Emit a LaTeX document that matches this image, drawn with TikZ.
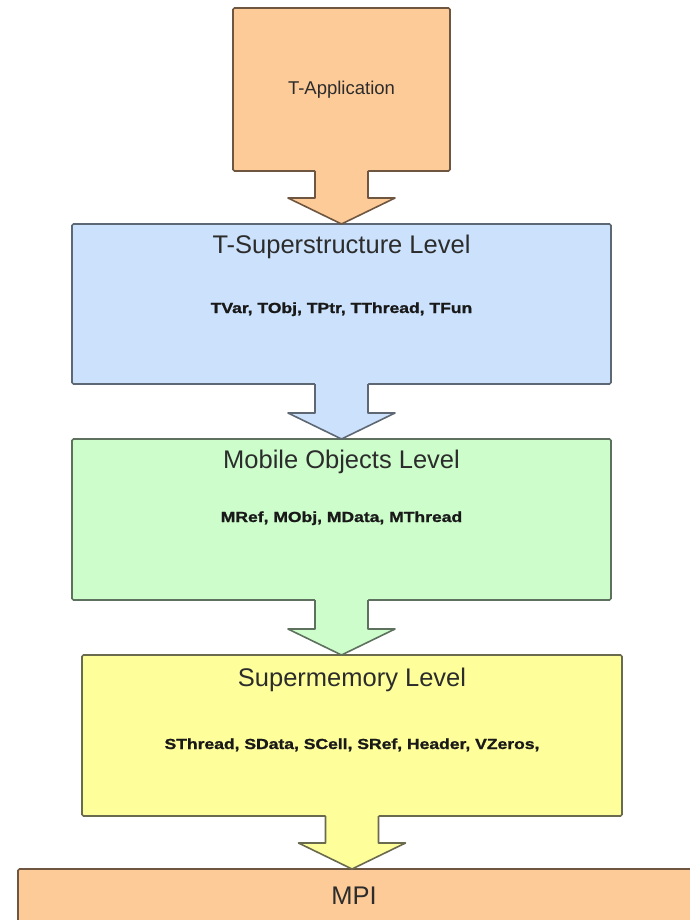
\documentclass[tikz,border=0pt]{standalone}
\usepackage{fontspec}
\setmainfont{Liberation Sans}
\newfontfamily\subfont[FakeStretch=1.2,FakeBold=1.2]{Liberation Sans}
\usetikzlibrary{calc}
\definecolor{appfill}{HTML}{FDCB98}
\definecolor{appdraw}{HTML}{6E5640}
\definecolor{bluefill}{HTML}{CCE2FC}
\definecolor{bluedraw}{HTML}{5E6874}
\definecolor{greenfill}{HTML}{CDFDCB}
\definecolor{greendraw}{HTML}{5E705E}
\definecolor{yellowfill}{HTML}{FEFE9A}
\definecolor{yellowdraw}{HTML}{6A6A4E}
\definecolor{txt}{HTML}{2C2C2C}
\tikzset{
  levelbox/.style={rectangle, rounded corners=1.5pt, line width=1.6pt, outer sep=0pt, inner sep=0pt, anchor=north west},
  titletext/.style={anchor=base, inner sep=0pt, text=txt, font=\fontsize{25.5}{28}\selectfont},
  apptext/.style={anchor=base, inner sep=0pt, text=txt, font=\fontsize{18.5}{20}\selectfont},
  subtext/.style={anchor=base, inner sep=0pt, text=black!90, font=\fontsize{14.6}{16}\selectfont\subfont\bfseries},
}
\newcommand\levelarrow[4]{%
  \fill[#3] let \p1=(#1.south), \p2=(#2.north) in
    (\x1-26.5pt,\y1+2pt) -- (\x1-26.5pt,\y2+26pt) -- (\x1-53.5pt,\y2+26pt) -- (\x1,\y2)
    -- (\x1+53.5pt,\y2+26pt) -- (\x1+26.5pt,\y2+26pt) -- (\x1+26.5pt,\y1+2pt) -- cycle;
  \draw[#4, line width=1.6pt, line join=round] let \p1=(#1.south), \p2=(#2.north) in
    (\x1-26.5pt,\y1) -- (\x1-26.5pt,\y2+26pt) -- (\x1-53.5pt,\y2+26pt) -- (\x1,\y2)
    -- (\x1+53.5pt,\y2+26pt) -- (\x1+26.5pt,\y2+26pt) -- (\x1+26.5pt,\y1);
}
\begin{document}
\begin{tikzpicture}[x=1pt, y=-1pt]
\useasboundingbox (0,0) rectangle (690,920);
\clip (0,0) rectangle (690,920);
\fill[white] (0,0) rectangle (690,920);
% boxes
\node[levelbox, fill=appfill, draw=appdraw, minimum width=217pt, minimum height=163pt] (tapp) at (233,8) {};
\node[levelbox, fill=bluefill, draw=bluedraw, minimum width=539pt, minimum height=160pt] (tsup) at (72,224) {};
\node[levelbox, fill=greenfill, draw=greendraw, minimum width=539pt, minimum height=161pt] (mobj) at (72,439) {};
\node[levelbox, fill=yellowfill, draw=yellowdraw, minimum width=540pt, minimum height=161pt] (smem) at (82,655) {};
\node[levelbox, fill=appfill, draw=appdraw, minimum width=700pt, minimum height=80pt] (mpi) at (18,869) {};
% arrows
\levelarrow{tapp}{tsup}{appfill}{appdraw}
\levelarrow{tsup}{mobj}{bluefill}{bluedraw}
\levelarrow{mobj}{smem}{greenfill}{greendraw}
\levelarrow{smem}{mpi}{yellowfill}{yellowdraw}
% texts
\node[apptext] (tappt) at (341.5,95) {T-Application};
\node[titletext] (tsupt) at (341.5,253) {T-Superstructure Level};
\node[subtext] (tsups) at (341.5,313) {TVar, TObj, TPtr, TThread, TFun};
\node[titletext] (mobjt) at (341.5,468) {Mobile Objects Level};
\node[subtext] (mobjs) at (341.5,522) {MRef, MObj, MData, MThread};
\node[titletext] (smemt) at (352,686) {Supermemory Level};
\node[subtext] (smems) at (352,749) {SThread, SData, SCell, SRef, Header, VZeros,};
\node[titletext] (mpit) at (354,904) {MPI};
\end{tikzpicture}
\end{document}
